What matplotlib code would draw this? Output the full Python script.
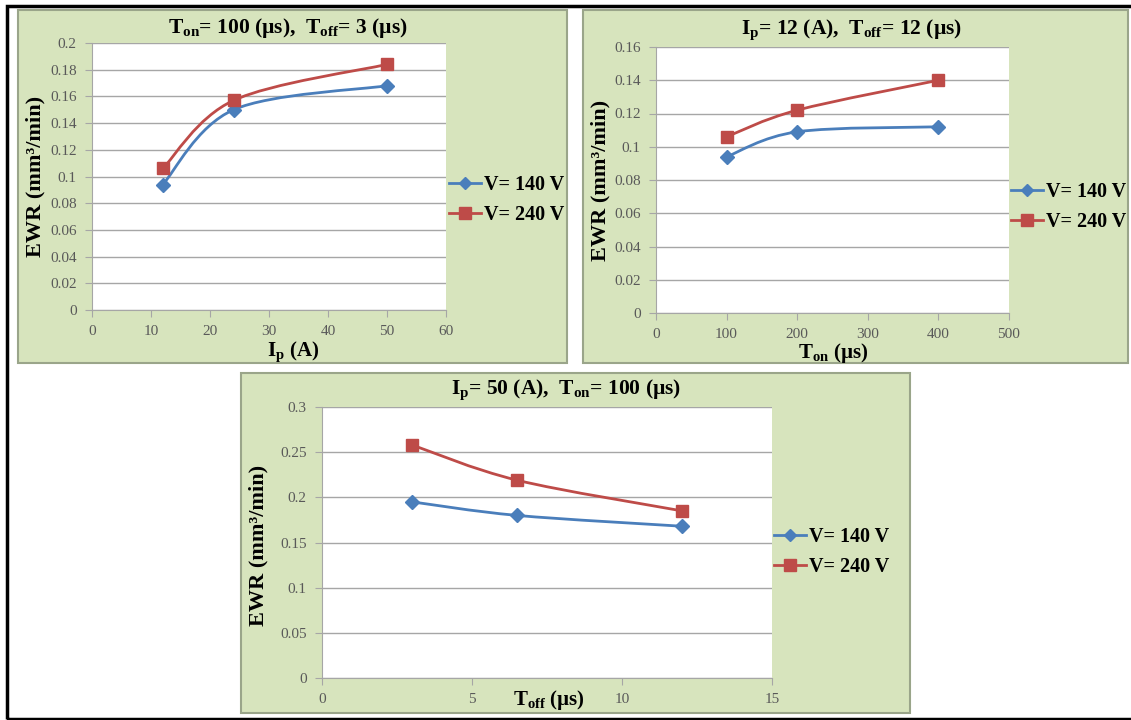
import matplotlib.pyplot as plt
from matplotlib.path import Path
from matplotlib.patches import PathPatch, Rectangle
from matplotlib.lines import Line2D
import numpy as np

plt.rcParams['font.family'] = ['Liberation Serif', 'DejaVu Serif']
plt.rcParams['mathtext.fontset'] = 'custom'
plt.rcParams['mathtext.rm'] = 'Liberation Serif'
plt.rcParams['mathtext.bf'] = 'Liberation Serif:bold'
plt.rcParams['mathtext.it'] = 'Liberation Serif:italic'

# data
ip_vals = [12, 24, 50]
ewr_ip_140 = [0.094, 0.150, 0.168]
ewr_ip_240 = [0.106, 0.157, 0.184]

ton_vals = [100, 200, 400]
ewr_ton_140 = [0.094, 0.109, 0.112]
ewr_ton_240 = [0.106, 0.122, 0.140]

toff_vals = [3, 6.5, 12]
ewr_toff_140 = [0.195, 0.180, 0.168]
ewr_toff_240 = [0.258, 0.219, 0.185]

series_labels = ['V= 140 V', 'V= 240 V']

W, H = 1131, 720
BLUE = '#4a7ebb'
RED = '#be4b48'
GREEN = '#d7e4bd'
TICK_GRAY = '#595959'

fig = plt.figure(figsize=(W / 100, H / 100), dpi=100)


def fx(px):
    return px / W


def fy(py):
    return 1 - py / H


def rect(x0, y0, x1, y1):
    return [fx(x0), fy(y1), (x1 - x0) / W, (y1 - y0) / H]


def smooth_line(ax, x, y, color):
    # excel style smoothed line: bezier through the points
    p = np.column_stack([x, y]).astype(float)
    n = len(p)
    verts = [p[0]]
    codes = [Path.MOVETO]
    for i in range(n - 1):
        p0 = p[i - 1] if i > 0 else p[i]
        p3 = p[i + 2] if i + 2 < n else p[i + 1]
        c1 = p[i] + (p[i + 1] - p0) / 6
        c2 = p[i + 1] - (p3 - p[i]) / 6
        verts += [c1, c2, p[i + 1]]
        codes += [Path.CURVE4] * 3
    ax.add_patch(PathPatch(Path(verts, codes), facecolor='none', edgecolor=color, lw=2, zorder=3))


def panel(box, plot, x, y140, y240, xlim, xticks, ylim, yticks, ytick_labels,
          title, title_xy, xlabel, xlabel_xy, ylabel_xy, legend_xy):
    fig.add_artist(Rectangle((fx(box[0]), fy(box[3])), (box[2] - box[0]) / W, (box[3] - box[1]) / H,
                             transform=fig.transFigure, facecolor=GREEN, edgecolor='#9aa58a',
                             lw=1.5, zorder=-2))
    ax = fig.add_axes(rect(*plot))
    ax.set_facecolor('white')
    smooth_line(ax, x, y140, BLUE)
    smooth_line(ax, x, y240, RED)
    ax.plot(x, y140, linestyle='', marker='D', color=BLUE, markersize=7, zorder=4)
    ax.plot(x, y240, linestyle='', marker='s', color=RED, markersize=9, zorder=4)
    ax.set_xlim(*xlim)
    ax.set_ylim(*ylim)
    ax.set_xticks(xticks)
    ax.set_yticks(yticks)
    ax.set_yticklabels(ytick_labels)
    ax.grid(axis='y', color='#a6a6a6', lw=1)
    ax.set_axisbelow(True)
    for s in ['top', 'right']:
        ax.spines[s].set_visible(False)
    for s in ['left', 'bottom']:
        ax.spines[s].set_color('#a6a6a6')
    ax.tick_params(colors='#a6a6a6', labelcolor=TICK_GRAY, labelsize=11, length=5, pad=6)
    fig.text(fx(title_xy[0]), fy(title_xy[1]), title, ha='center', va='center',
             fontsize=15.5, fontweight='bold')
    fig.text(fx(xlabel_xy[0]), fy(xlabel_xy[1]), xlabel, ha='center', va='center',
             fontsize=15, fontweight='bold')
    fig.text(fx(ylabel_xy[0]), fy(ylabel_xy[1]), 'EWR (mm³/min)', ha='center', va='center',
             rotation=90, fontsize=16, fontweight='bold')
    handles = [Line2D([], [], color=BLUE, lw=2, marker='D', markersize=6),
               Line2D([], [], color=RED, lw=2, marker='s', markersize=8)]
    ax.legend(handles, series_labels, loc='center left',
              bbox_to_anchor=(fx(legend_xy[0]), fy(legend_xy[1])), bbox_transform=fig.transFigure,
              frameon=False, numpoints=1, handlelength=1.6, handletextpad=0.15,
              labelspacing=0.5, borderpad=0, borderaxespad=0,
              prop={'size': 14.5, 'weight': 'bold'})
    return ax


panel((18, 10, 567, 363), (92, 43, 446, 310), ip_vals, ewr_ip_140, ewr_ip_240,
      (0, 60), range(0, 61, 10), (0, 0.2), np.arange(0, 0.201, 0.02),
      ['0', '0.02', '0.04', '0.06', '0.08', '0.1', '0.12', '0.14', '0.16', '0.18', '0.2'],
      r'$\mathbf{T_{on}}$= 100 (µs),  $\mathbf{T_{off}}$= 3 (µs)', (288, 28),
      r'$\mathbf{I_p}$ (A)', (293, 352), (35, 176), (449, 200))

panel((583, 10, 1128, 363), (656, 47, 1009, 313), ton_vals, ewr_ton_140, ewr_ton_240,
      (0, 500), range(0, 501, 100), (0, 0.16), np.arange(0, 0.161, 0.02),
      ['0', '0.02', '0.04', '0.06', '0.08', '0.1', '0.12', '0.14', '0.16'],
      r'$\mathbf{I_p}$= 12 (A),  $\mathbf{T_{off}}$= 12 (µs)', (852, 30),
      r'$\mathbf{T_{on}}$ (µs)', (833, 353), (600, 180), (1011, 207))

panel((241, 373, 910, 713), (322, 407, 772, 678), toff_vals, ewr_toff_140, ewr_toff_240,
      (0, 15), range(0, 16, 5), (0, 0.3), np.arange(0, 0.301, 0.05),
      ['0', '0.05', '0.1', '0.15', '0.2', '0.25', '0.3'],
      r'$\mathbf{I_p}$= 50 (A),  $\mathbf{T_{on}}$= 100 (µs)', (566, 390),
      r'$\mathbf{T_{off}}$ (µs)', (549, 700), (258, 545), (774, 552))

# outer black frame
fig.add_artist(Rectangle((fx(7), fy(719)), (1140 - 7) / W, (719 - 6) / H,
                         transform=fig.transFigure, facecolor='none', edgecolor='black',
                         lw=2.5, zorder=10))

fig.savefig('out.png', dpi=100)
